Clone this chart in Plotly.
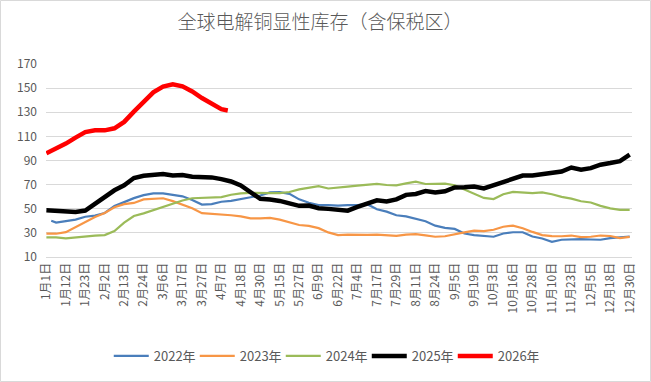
import plotly.graph_objects as go

# ---- data ----
x_labels = ["1月1日", "1月12日", "1月23日", "2月2日", "2月13日", "2月24日", "3月6日", "3月17日",
            "3月27日", "4月7日", "4月18日", "4月30日", "5月15日", "5月27日", "6月9日", "6月22日",
            "7月4日", "7月17日", "7月29日", "8月11日", "8月24日", "9月5日", "9月19日", "10月3日",
            "10月16日", "10月28日", "11月10日", "11月23日", "12月5日", "12月18日", "12月30日"]

# positions on the category axis (in label slots), half-slot resolution
x_pos = [i / 2 for i in range(61)]
x_2022 = [0.25] + x_pos[1:]
x_2026 = x_pos[:19] + [9.33]

y_2022 = [40, 38.5, 39.8, 41, 43.4, 44.3, 46.5, 52.3, 55.5, 58.8,
          61.3, 62.8, 62.8, 61.6, 60.3, 57.3, 53.5, 53.8, 55.8, 56.6,
          58.2, 59.2, 61, 63.6, 63.8, 62.3, 57.8, 55, 53.1, 53,
          52.6, 53, 53, 53.8, 49.6, 47.6, 44.6, 43.7, 41.8, 39.6,
          36, 34.2, 33.3, 29.5, 28.2, 27.8, 26.8, 29.5, 30.5, 30.5,
          27, 25.3, 22.6, 24.3, 24.8, 24.8, 24.5, 24.3, 25.6, 26.2,
          27]
y_2023 = [29.3, 29.3, 30.6, 34.8, 39.5, 43.2, 46.5, 51.2, 53.8, 54.8,
          57.7, 58.2, 58.7, 56.3, 53.2, 50.5, 46.3, 45.8, 45.6, 44.6,
          43.7, 42, 42, 42.4, 41, 38.5, 36.5, 35.8, 33.9, 30.4,
          28.1, 28.5, 28.1, 28.3, 28.5, 28.2, 27.5, 28.6, 29, 28,
          26.8, 27.2, 29, 30.4, 31.8, 31.4, 32.6, 35.1, 36, 33.8,
          30.8, 28.2, 27.3, 27.2, 27.8, 26.5, 26.8, 27.8, 27.4, 25.6,
          26.7]
y_2024 = [26.2, 26.2, 25.4, 26.3, 27, 27.7, 28.2, 31.5, 38.5, 44,
          46.2, 48.8, 51.2, 54, 56.8, 58.7, 59, 59.2, 59.7, 61.6,
          62.8, 63.2, 62.8, 62.9, 63, 63.9, 66, 67.5, 68.8, 66.8,
          67.3, 68.4, 69.2, 69.6, 70.6, 69.7, 69.4, 71, 72.5, 70.5,
          70.4, 70.8, 69.5, 66, 62.2, 59, 58, 62, 63.9, 63.5,
          63, 63.5, 62, 59.8, 58.4, 56.2, 55.2, 52.4, 50.3, 49,
          49]
y_2025 = [48.8, 48.3, 47.4, 47.4, 48.5, 54, 60.3, 65.3, 69.5, 75.5,
          77.3, 78.3, 78.8, 77.5, 77.9, 76.5, 76.3, 76, 74.6, 72.6,
          69.3, 63.2, 58.2, 57.6, 56.5, 54.4, 52.4, 52.7, 50.4, 49.9,
          48.8, 48.4, 51.5, 54.6, 57, 56, 57.8, 61.5, 62.3, 64.6,
          63.5, 64.5, 67.7, 67.8, 68.4, 66.9, 69.5, 72.3, 75, 77.5,
          77.5, 78.6, 80, 80.8, 84.2, 82.3, 83.7, 86.5, 87.9, 89.5,
          94.8]
y_2026 = [96, 99.5, 104, 109, 113.5, 115, 115, 116.7, 122, 130.5,
          139, 146.5, 151.2, 153.2, 151.5, 147.2, 141.8, 137, 132.5, 131.5]

y_ticks = [10, 30, 50, 70, 90, 110, 130, 150, 170]

series = [
    ("2022年", x_2022, y_2022, "#4A7EBB", 2.2),
    ("2023年", x_pos, y_2023, "#F79646", 2.2),
    ("2024年", x_pos, y_2024, "#9BBB59", 2.2),
    ("2025年", x_pos, y_2025, "#000000", 4.5),
    ("2026年", x_2026, y_2026, "#FF0000", 4.5),
]

FONT = "Noto Sans CJK SC, Noto Sans, sans-serif"
TXT = "#595959"

fig = go.Figure()
for name, xs, ys, color, w in series:
    fig.add_trace(go.Scatter(x=xs, y=ys, name=name, mode="lines",
                             line=dict(color=color, width=w)))

W, H = 651, 382
L, R, T, B = 46, 19, 64, 125
pw, ph = W - L - R, H - T - B

fig.update_layout(
    width=W, height=H,
    margin=dict(l=L, r=R, t=T, b=B, autoexpand=False),
    paper_bgcolor="white", plot_bgcolor="white",
    font=dict(family=FONT, size=12, color=TXT),
    title=dict(text="全球电解铜显性库存（含保税区）", x=0.4915, xanchor="center",
               y=1 - 22 / H, yanchor="middle",
               font=dict(family=FONT, size=19, color=TXT, weight=300)),
    showlegend=True,
    legend=dict(orientation="h", x=0.474, xanchor="center", y=(ph - (356 - T)) / ph,
                yanchor="middle", font=dict(family=FONT, size=13, color=TXT),
                itemwidth=35, entrywidth=36, entrywidthmode="pixels",
                traceorder="normal"),
    xaxis=dict(range=[-0.02, 30.12], tickmode="array",
               tickvals=list(range(len(x_labels))), ticktext=x_labels,
               tickangle=-90, showgrid=False, zeroline=False, automargin=False,
               showline=True, linecolor="#D9D9D9", linewidth=1, ticks="",
               tickfont=dict(family=FONT, size=12, color=TXT)),
    yaxis=dict(range=[10, 170], tickmode="array", tickvals=y_ticks,
               showgrid=True, gridcolor="#D9D9D9", gridwidth=1,
               zeroline=False, showline=False, ticks="", automargin=False,
               ticklabelstandoff=8,
               tickfont=dict(family=FONT, size=12, color=TXT)),
    shapes=[dict(type="rect", xref="paper", yref="paper",
                 x0=(-L + 0.5) / pw, x1=1 + (R - 0.5) / pw,
                 y0=(-B + 0.5) / ph, y1=1 + (T - 0.5) / ph,
                 line=dict(color="#D9D9D9", width=1), fillcolor="rgba(0,0,0,0)",
                 layer="below")],
)

fig.write_html("out.html", config={"displayModeBar": False},
               post_script="document.body.style.margin='0';")
